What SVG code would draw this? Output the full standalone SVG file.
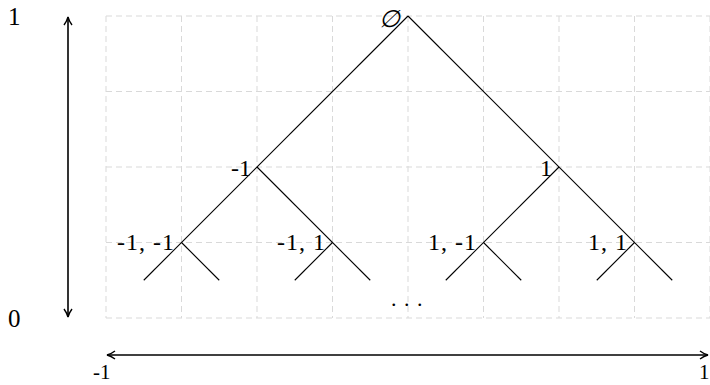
<svg xmlns="http://www.w3.org/2000/svg" width="710" height="385" viewBox="0 0 710 385">
<defs>
<style>
.grid line{stroke:#d9d9d9;stroke-width:1;stroke-dasharray:6 4}
.edge{stroke:#000;stroke-width:1.1;fill:none}
.axis{stroke:#000;stroke-width:1.6;fill:none}
.lbl{font-family:"Liberation Serif","DejaVu Serif",serif;font-size:24px;fill:#000;text-anchor:end}
.ax{font-family:"Liberation Serif","DejaVu Serif",serif;fill:#000}
</style>
<marker id="ah" viewBox="0 0 10 10" refX="9" refY="5" markerWidth="10" markerHeight="10" markerUnits="userSpaceOnUse" orient="auto-start-reverse">
<path d="M1,1 Q5,4 9,5 Q5,6 1,9" fill="none" stroke="#000" stroke-width="1.4"/>
</marker>
</defs>
<g class="grid">
<line x1="106" y1="16" x2="106" y2="318"/>
<line x1="181.5" y1="16" x2="181.5" y2="318"/>
<line x1="257" y1="16" x2="257" y2="318"/>
<line x1="332.5" y1="16" x2="332.5" y2="318"/>
<line x1="408" y1="16" x2="408" y2="318"/>
<line x1="483.5" y1="16" x2="483.5" y2="318"/>
<line x1="559" y1="16" x2="559" y2="318"/>
<line x1="634.5" y1="16" x2="634.5" y2="318"/>
<line x1="710" y1="16" x2="710" y2="318"/>
<line x1="106" y1="16" x2="710" y2="16"/>
<line x1="106" y1="91.5" x2="710" y2="91.5"/>
<line x1="106" y1="167" x2="710" y2="167"/>
<line x1="106" y1="242.5" x2="710" y2="242.5"/>
<line x1="106" y1="318" x2="710" y2="318"/>
</g>
<g id="axes">
<line class="axis" x1="68" y1="17" x2="68" y2="317" marker-start="url(#ah)" marker-end="url(#ah)"/>
<line class="axis" x1="107" y1="355" x2="708" y2="355" marker-start="url(#ah)" marker-end="url(#ah)"/>
<text class="ax" x="8" y="25" font-size="25">1</text>
<text class="ax" x="8" y="327" font-size="25">0</text>
<text class="ax" x="93" y="379" font-size="21">-1</text>
<text class="ax" x="699" y="379" font-size="21">1</text>
</g>
<g id="connectors">
<line class="edge" x1="408" y1="16" x2="143.75" y2="280.25"/>
<line class="edge" x1="408" y1="16" x2="672.25" y2="280.25"/>
<line class="edge" x1="257" y1="167" x2="370.25" y2="280.25"/>
<line class="edge" x1="559" y1="167" x2="445.75" y2="280.25"/>
<line class="edge" x1="181.5" y1="242.5" x2="219.25" y2="280.25"/>
<line class="edge" x1="332.5" y1="242.5" x2="294.75" y2="280.25"/>
<line class="edge" x1="483.5" y1="242.5" x2="521.25" y2="280.25"/>
<line class="edge" x1="634.5" y1="242.5" x2="596.75" y2="280.25"/>
</g>
<g id="n-root"><text class="lbl" x="400" y="27" font-style="italic">∅</text></g>
<g id="n-m1"><text class="lbl" x="251" y="176">-1</text></g>
<g id="n-p1"><text class="lbl" x="552" y="176">1</text></g>
<g id="n-m1m1"><text class="lbl" x="175" y="250" letter-spacing="1">-1, -1</text></g>
<g id="n-m1p1"><text class="lbl" x="326" y="250" letter-spacing="1">-1, 1</text></g>
<g id="n-p1m1"><text class="lbl" x="477" y="250" letter-spacing="1">1, -1</text></g>
<g id="n-p1p1"><text class="lbl" x="628" y="250" letter-spacing="1">1, 1</text></g>
<g id="n-dots"><text class="ax" x="391" y="306" font-size="22" letter-spacing="1">. . .</text></g>
</svg>
